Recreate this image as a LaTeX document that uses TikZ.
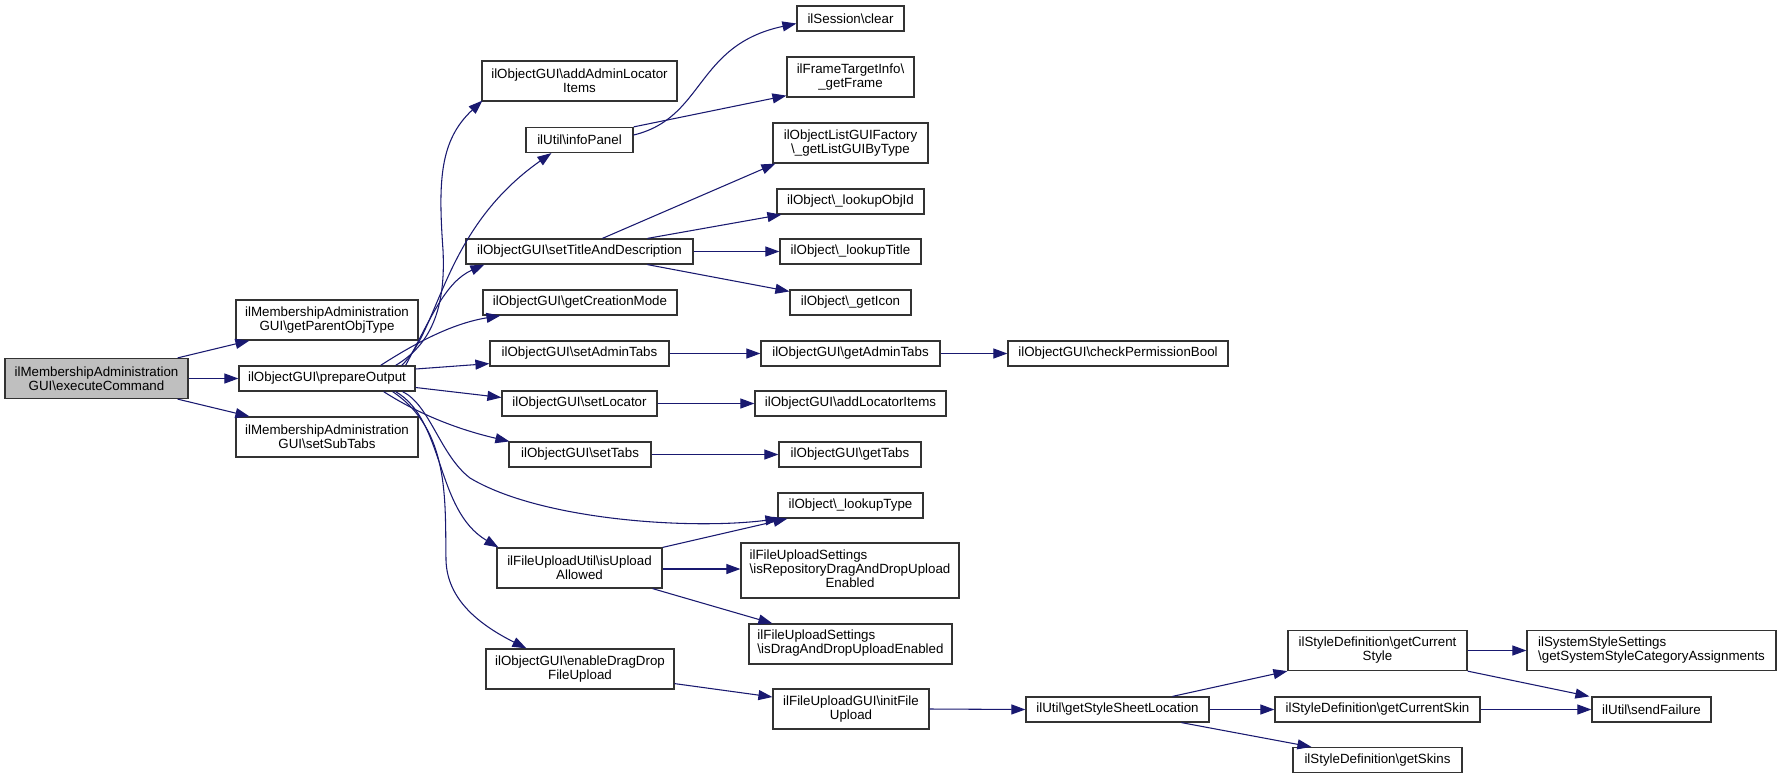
\documentclass[tikz,border=0pt]{standalone}
\usepackage{fontspec}
\setmainfont{Liberation Sans}
\usetikzlibrary{arrows.meta,calc}
\definecolor{edgeblue}{HTML}{191970}
\definecolor{nodegray}{HTML}{BFBFBF}
\begin{document}
\begin{tikzpicture}[x=0.75pt,y=-0.75pt,
  fnbase/.style={draw=black!80, line width=0.9pt, fill=white, inner sep=0pt,
    minimum height=18.75pt, font=\fontsize{10}{10.5}\selectfont},
  fn/.style={fnbase, align=center},
  fnl/.style={fnbase},
  wd/.style={minimum width=#1*0.75pt},
  two/.style={minimum height=30pt},
  three/.style={minimum height=41.25pt},
  call/.style={draw=edgeblue, line width=0.8pt, -{Triangle[length=10.5pt,width=7.5pt]}}]
\useasboundingbox[fill=white] (0,0) rectangle (1781,779);

% rank 0 / 1
\node[fn,fill=nodegray,wd=183,two] (exec) at (96.5,378.5) {ilMembershipAdministration\\GUI\textbackslash executeCommand};
\node[fn,wd=182,two] (getParent) at (327,320) {ilMembershipAdministration\\GUI\textbackslash getParentObjType};
\node[fn,wd=176] (prepOut) at (327,378.5) {ilObjectGUI\textbackslash prepareOutput};
\node[fn,wd=182,two] (setSub) at (327,437) {ilMembershipAdministration\\GUI\textbackslash setSubTabs};

% rank 2
\node[fn,wd=195,two] (addAdmin) at (579.5,81) {ilObjectGUI\textbackslash addAdminLocator\\Items};
\node[fn,wd=107] (infoPanel) at (579.5,140) {ilUtil\textbackslash infoPanel};
\node[fn,wd=227] (setTitle) at (579.5,251.5) {ilObjectGUI\textbackslash setTitleAndDescription};
\node[fn,wd=194] (getCreation) at (580,302.5) {ilObjectGUI\textbackslash getCreationMode};
\node[fn,wd=179] (setAdminTabs) at (579.5,353.5) {ilObjectGUI\textbackslash setAdminTabs};
\node[fn,wd=155] (setLocator) at (579.5,403.5) {ilObjectGUI\textbackslash setLocator};
\node[fn,wd=142] (setTabs) at (580,454.5) {ilObjectGUI\textbackslash setTabs};
\node[fn,wd=165,two] (isUpload) at (579.5,568) {ilFileUploadUtil\textbackslash isUpload\\Allowed};
\node[fn,wd=188,two] (enableDD) at (580,669) {ilObjectGUI\textbackslash enableDragDrop\\FileUpload};

% rank 3
\node[fn,wd=107] (session) at (850.5,18.5) {ilSession\textbackslash clear};
\node[fn,wd=127,two] (frameTarget) at (850.5,77) {ilFrameTargetInfo\textbackslash\\\_getFrame};
\node[fn,wd=155,two] (listFactory) at (850.5,143) {ilObjectListGUIFactory\\\textbackslash\_getListGUIByType};
\node[fn,wd=147] (lookupObjId) at (850.5,201.5) {ilObject\textbackslash\_lookupObjId};
\node[fn,wd=141] (lookupTitle) at (850.5,251.5) {ilObject\textbackslash\_lookupTitle};
\node[fn,wd=121] (getIcon) at (850.5,302.5) {ilObject\textbackslash\_getIcon};
\node[fn,wd=179] (getAdminTabs) at (850.5,353.5) {ilObjectGUI\textbackslash getAdminTabs};
\node[fn,wd=191] (addLocatorItems) at (850.5,403.5) {ilObjectGUI\textbackslash addLocatorItems};
\node[fn,wd=142] (getTabs) at (850,454.5) {ilObjectGUI\textbackslash getTabs};
\node[fn,wd=145] (lookupType) at (850.5,505.5) {ilObject\textbackslash\_lookupType};
\node[fnl,wd=218,three] (isRepo) at (850,570.5) {\begin{tabular}{@{}l@{}}ilFileUploadSettings\\\textbackslash isRepositoryDragAndDropUpload\\\multicolumn{1}{@{}c@{}}{Enabled}\end{tabular}};
\node[fnl,wd=203,two] (isDnD) at (850.5,644) {\begin{tabular}{@{}l@{}}ilFileUploadSettings\\\textbackslash isDragAndDropUploadEnabled\end{tabular}};
\node[fn,wd=156,two] (initFile) at (851,709) {ilFileUploadGUI\textbackslash initFile\\Upload};

% rank 4+
\node[fn,wd=220] (checkPerm) at (1118,353.5) {ilObjectGUI\textbackslash checkPermissionBool};
\node[fn,wd=183] (getSSL) at (1117.5,709.5) {ilUtil\textbackslash getStyleSheetLocation};
\node[fn,wd=179,two] (getCurStyle) at (1377.5,650.5) {ilStyleDefinition\textbackslash getCurrent\\Style};
\node[fn,wd=205] (getCurSkin) at (1377.5,709.5) {ilStyleDefinition\textbackslash getCurrentSkin};
\node[fn,wd=169] (getSkins) at (1377.5,760) {ilStyleDefinition\textbackslash getSkins};
\node[fnl,wd=249,two] (sysStyle) at (1651.5,650.5) {\begin{tabular}{@{}l@{}}ilSystemStyleSettings\\\textbackslash getSystemStyleCategoryAssignments\end{tabular}};
\node[fn,wd=119] (sendFailure) at (1651.5,709.5) {ilUtil\textbackslash sendFailure};

% edges
\draw[call] ($(exec.north east)+(-11,0)$) -- ($(getParent.south west)+(14,0)$);
\draw[call] (exec.east) -- (prepOut.west);
\draw[call] ($(exec.south east)+(-11,0)$) -- ($(setSub.north west)+(14,0)$);

\draw[call] ($(prepOut.north east)+(-20,0)$) .. controls (430,345) and (446,310) .. (443,250) .. controls (438,180) and (440,140) .. ($(addAdmin.south west)+(1,-1)$);
\draw[call] ($(prepOut.north east)+(-14,0)$) .. controls (440,330) and (442,230) .. ($(infoPanel.south west)+(26,0)$);
\draw[call] ($(prepOut.north east)+(-10,0)$) .. controls (430,320) and (445,282) .. ($(setTitle.south west)+(19,0)$);
\draw[call] ($(prepOut.north east)+(-35,0)$) .. controls (420,340) and (455,323) .. ($(getCreation.south west)+(18,0)$);
\draw[call] ($(prepOut.east)+(0,-9.5)$) -- ($(setAdminTabs.south west)+(0,-3)$);
\draw[call] ($(prepOut.east)+(0,9)$) -- ($(setLocator.west)+(0,-6)$);
\draw[call] ($(prepOut.south east)+(-32,0)$) .. controls (420,415) and (460,430) .. ($(setTabs.north west)+(1,0)$);
\draw[call] ($(prepOut.south east)+(-13,0)$) .. controls (430,405) and (440,455) .. (470,478) .. controls (540,520) and (690,530) .. ($(lookupType.south west)+(2,0)$);
\draw[call] ($(prepOut.south east)+(-20,0)$) .. controls (445,420) and (435,510) .. ($(isUpload.north west)+(2,0)$);
\draw[call] ($(prepOut.south east)+(-23,0)$) .. controls (450,430) and (445,500) .. (446,560) .. controls (447,600) and (480,625) .. ($(enableDD.north west)+(41,0)$);

\draw[call] ($(infoPanel.east)+(0,-5)$) .. controls (705,118) and (695,45) .. ($(session.west)+(0,5)$);
\draw[call] (infoPanel.north east) -- ($(frameTarget.south west)+(0,-2)$);
\draw[call] ($(setTitle.north west)+(137,0)$) -- ($(listFactory.south west)+(3,0)$);
\draw[call] ($(setTitle.north west)+(182,0)$) -- ($(lookupObjId.south west)+(5,0)$);
\draw[call] (setTitle.east) -- (lookupTitle.west);
\draw[call] ($(setTitle.south west)+(182,0)$) -- ($(getIcon.north west)+(0,2)$);
\draw[call] (setAdminTabs.east) -- (getAdminTabs.west);
\draw[call] (getAdminTabs.east) -- (checkPerm.west);
\draw[call] (setLocator.east) -- (addLocatorItems.west);
\draw[call] (setTabs.east) -- (getTabs.west);
\draw[call] (isUpload.north east) -- ($(lookupType.south west)+(10,0)$);
\draw[call] ($(isUpload.east)+(0,1)$) -- ($(isRepo.west)+(0,-1.5)$);
\draw[call] ($(isUpload.south east)+(-10,0)$) -- ($(isDnD.north west)+(24,0)$);
\draw[call] ($(enableDD.south east)+(0,-6)$) -- ($(initFile.west)+(0,-12)$);
\draw[call] (initFile.east) -- (getSSL.west);
\draw[call] ($(getSSL.north west)+(147,0)$) -- (getCurStyle.south west);
\draw[call] (getSSL.east) -- (getCurSkin.west);
\draw[call] ($(getSSL.south west)+(156,0)$) -- ($(getSkins.north west)+(19,0)$);
\draw[call] (getCurStyle.east) -- (sysStyle.west);
\draw[call] (getCurStyle.south east) -- ($(sendFailure.north west)+(-2,0)$);
\draw[call] (getCurSkin.east) -- (sendFailure.west);
\end{tikzpicture}
\end{document}
